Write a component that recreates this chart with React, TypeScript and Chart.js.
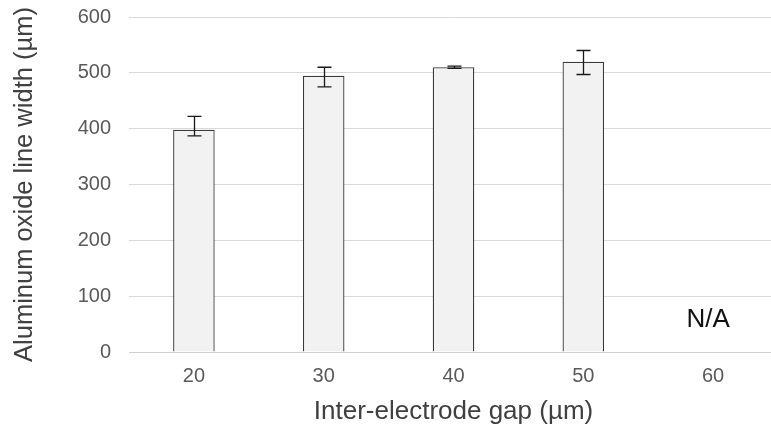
import React, { useEffect, useRef } from "react";
import { Chart, registerables } from "chart.js";

Chart.register(...registerables);

const categories = ["20", "30", "40", "50", "60"];
const widths: (number | null)[] = [398, 495, 510, 520, null];
const errPlus = [24, 15, 2, 20, 0];
const errMinus = [11, 20, 2, 23, 0];
const yTicks = [0, 100, 200, 300, 400, 500, 600];
const naLabels = ["", "", "", "", "N/A"];

const FONT = "'Liberation Sans', Arial, sans-serif";

const errorBarPlugin = {
  id: "errorBars",
  afterDatasetsDraw(chart: any) {
    const ctx = chart.ctx;
    const x = chart.scales.x;
    const y = chart.scales.y;
    ctx.save();
    ctx.strokeStyle = "#1a1a1a";
    ctx.lineWidth = 1.3;
    widths.forEach((v, i) => {
      if (v == null) return;
      const px = Math.round(x.getPixelForValue(i)) + 0.5;
      const top = y.getPixelForValue(v + errPlus[i]);
      const bot = y.getPixelForValue(v - errMinus[i]);
      ctx.beginPath();
      ctx.moveTo(px, top);
      ctx.lineTo(px, bot);
      ctx.moveTo(px - 7, top);
      ctx.lineTo(px + 7, top);
      ctx.moveTo(px - 7, bot);
      ctx.lineTo(px + 7, bot);
      ctx.stroke();
    });
    ctx.fillStyle = "#111111";
    ctx.font = "26px " + FONT;
    ctx.textAlign = "center";
    ctx.textBaseline = "middle";
    naLabels.forEach((t, i) => {
      if (!t) return;
      ctx.fillText(t, x.getPixelForValue(i) - 5, y.getPixelForValue(57));
    });
    ctx.restore();
  },
};

export default function App() {
  const ref = useRef<HTMLCanvasElement>(null);
  useEffect(() => {
    document.body.style.margin = "0";
    const chart = new Chart(ref.current!, {
      type: "bar",
      data: {
        labels: categories,
        datasets: [
          {
            data: widths,
            backgroundColor: "#f2f2f2",
            borderColor: "#3a3a3a",
            borderWidth: 1.3,
            categoryPercentage: 1,
            barPercentage: 0.32,
          },
        ],
      },
      options: {
        animation: false,
        responsive: false,
        layout: { padding: { top: 17, right: 22, left: 0, bottom: 0 } },
        plugins: { legend: { display: false }, tooltip: { enabled: false } },
        scales: {
          x: {
            grid: { display: false, drawTicks: false },
            border: { color: "#d0d0d0", width: 1 },
            ticks: {
              color: "#595959",
              font: { family: FONT, size: 20 },
              padding: 12,
            },
            title: {
              display: true,
              text: "Inter-electrode gap (µm)",
              color: "#404040",
              font: { family: FONT, size: 26 },
              padding: { top: 0, bottom: 4 },
            },
            afterFit: (s: any) => {
              s.height = 79;
              s.paddingLeft = 0;
              s.paddingRight = 0;
            },
          },
          y: {
            min: 0,
            max: 600,
            afterBuildTicks: (s: any) => {
              s.ticks = yTicks.map((v) => ({ value: v }));
            },
            grid: { color: "#d9d9d9", drawTicks: false, lineWidth: 1 },
            border: { display: false },
            ticks: {
              color: "#595959",
              font: { family: FONT, size: 20 },
              padding: 18,
            },
            title: {
              display: true,
              text: "Aluminum oxide line width (µm)",
              color: "#404040",
              font: { family: FONT, size: 25.5 },
              padding: { top: 10, bottom: 0 },
            },
            afterFit: (s: any) => {
              s.width = 129;
              s.paddingTop = 0;
              s.paddingBottom = 0;
            },
          },
        },
      },
      plugins: [errorBarPlugin],
    });
    return () => chart.destroy();
  }, []);
  return (
    <div style={{ position: "absolute", left: 0, top: 0, width: 771, height: 431, overflow: "hidden", background: "#fff" }}>
      <canvas ref={ref} width={800} height={431} style={{ width: 800, height: 431, display: "block" }} />
    </div>
  );
}
